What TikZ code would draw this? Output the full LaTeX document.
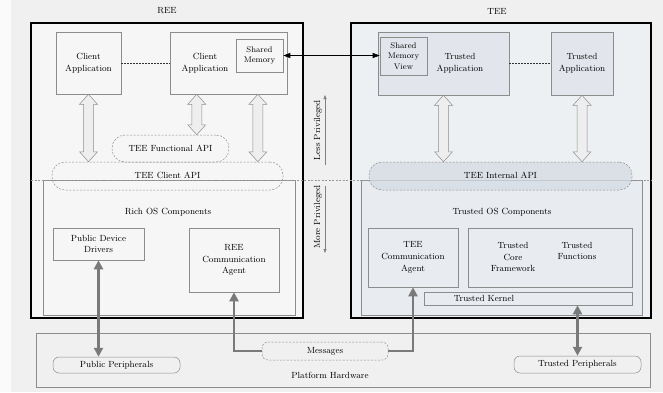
\documentclass[tikz,border=0pt]{standalone}
\usetikzlibrary{arrows.meta,calc}
\definecolor{pagebg}{HTML}{F0F0F0}
\definecolor{reefill}{HTML}{F6F6F6}
\definecolor{teefill}{HTML}{EDF0F3}
\definecolor{tosfill}{HTML}{E8ECF0}
\definecolor{tafill}{HTML}{E2E6EC}
\definecolor{apifill}{HTML}{D5DBE3}
\definecolor{edge}{HTML}{8C8C8C}
\definecolor{hwarrow}{HTML}{7A7A7A}
\definecolor{fatedge}{HTML}{8E8E8E}
\definecolor{fatfill}{HTML}{EEEEEE}
\begin{document}
\begin{tikzpicture}[x=1pt,y=-1pt,font=\fontsize{8.9}{11.8}\selectfont]
\tikzset{
  outer/.style={draw=black,line width=1.4pt,inner sep=0pt},
  layer/.style={draw=edge,line width=0.5pt,inner sep=0pt},
  box/.style={draw=edge,line width=0.55pt,align=center,inner sep=1pt},
  label/.style={align=center,inner sep=1pt},
  api/.style={draw=edge,line width=0.5pt,dash pattern=on 2pt off 1.5pt,rounded corners=13pt,inner sep=0pt},
  periph/.style={draw=edge,line width=0.5pt,rounded corners=6pt,inner sep=0pt},
  fatarrow/.style={draw=fatedge,fill=fatfill,line width=0.5pt},
  fat/.style={to path={let \p1=(\tikztostart), \p2=(\tikztotarget) in
    (\x1-5pt,\y1-10pt) -- (\x1-9pt,\y1-10pt) -- (\x1,\y1) -- (\x1+9pt,\y1-10pt)
    -- (\x1+5pt,\y1-10pt) -- (\x1+5pt,\y2+10pt) -- (\x1+9pt,\y2+10pt) -- (\x1,\y2)
    -- (\x1-9pt,\y2+10pt) -- (\x1-5pt,\y2+10pt) -- cycle}},
  hwlink/.style={draw=hwarrow,line width=2.2pt,{Triangle[length=9pt,width=9pt]}-{Triangle[length=9pt,width=9pt]}},
  hwone/.style={draw=hwarrow,line width=2.2pt,{Triangle[length=9pt,width=9pt]}-},
  shmlink/.style={draw=black,line width=0.6pt,{Triangle[length=7pt,width=5pt]}-{Triangle[length=7pt,width=5pt]}},
  privarrow/.style={draw=gray,line width=0.4pt,-{Triangle[length=4pt,width=3pt]}},
  divider/.style={draw=gray!80,line width=0.5pt,dash pattern=on 2pt off 1.5pt},
  peer/.style={draw=black!80,line width=0.6pt,dash pattern=on 2pt off 1pt}
}
\useasboundingbox (0,0) rectangle (663,392);
\fill[pagebg] (0,0) rectangle (663,392);
\fill[white!70!pagebg] (0,0) rectangle (11,392);

% world headings
\node[label] (reeT) at (167,11) {REE};
\node[label] (teeT) at (497,11) {TEE};

% the two execution environments and their OS layers
\node[outer,fill=reefill,minimum width=272,minimum height=295] (ree) at (167,170.5) {};
\node[outer,fill=teefill,minimum width=300,minimum height=295] (tee) at (501,170.5) {};
\node[layer,fill=reefill,minimum width=252,minimum height=135] (richos) at (169,247.5) {};
\node[layer,fill=tosfill,minimum width=281,minimum height=135] (trustos) at (501.5,247.5) {};

% privilege boundary
\coordinate (divL) at (31,180);
\coordinate (divR) at (651,180);
\draw[divider] (divL) -- (divR);

% platform hardware
\node[layer,minimum width=614,minimum height=54] (hw) at (343,360) {};
\node[label] (hwT) at (330,375) {Platform Hardware};

% API layers
\node[api,minimum width=117,minimum height=27] (fapi) at (170.5,148.5) {};
\node[label] (fapiT) at (170.5,148.5) {TEE Functional API};
\node[api,minimum width=231,minimum height=28] (capi) at (167.5,176) {};
\node[label] (capiT) at (167.5,175) {TEE Client API};
\node[api,fill=apifill,fill opacity=0.75,minimum width=263,minimum height=28] (iapi) at (500.5,176) {};
\node[label] (iapiT) at (500.5,175) {TEE Internal API};

% REE applications
\node[box,fill=reefill,minimum width=65,minimum height=62] (ca1) at (88.5,63) {Client\\Application};
\node[box,fill=reefill,minimum width=117,minimum height=62] (ca2) at (228.5,63) {};
\node[label] (ca2T) at (205,63) {Client\\Application};
\node[box,fill=reefill,minimum width=47,minimum height=33,font=\fontsize{8.2}{10.5}\selectfont] (shm) at (259.5,55.5) {Shared\\Memory};

% TEE applications
\node[box,fill=tafill,minimum width=131,minimum height=63] (ta1) at (443.5,63.5) {};
\node[label] (ta1T) at (460,63) {Trusted\\Application};
\node[box,fill=tafill,minimum width=47,minimum height=38,font=\fontsize{8.2}{10.5}\selectfont] (smv) at (403.5,56) {Shared\\Memory\\View};
\node[box,fill=tafill,minimum width=62,minimum height=63] (ta2) at (582,63.5) {Trusted\\Application};

\draw[peer] (ca1.east) -- (ca1.east -| ca2.west);
\draw[peer] (ta1.east) -- (ta1.east -| ta2.west);
\draw[shmlink] (shm.east) -- (shm.east -| smv.west);

% application to API calls
\coordinate (a2) at ($(ca2.south west)!0.23!(ca2.south east)$);
\coordinate (a3) at ($(ca2.south west)!0.75!(ca2.south east)$);
\path[fatarrow] (ca1.south) to[fat] (ca1.south |- capi.north);
\path[fatarrow] (a2) to[fat] (a2 |- fapi.north);
\path[fatarrow] (a3) to[fat] (a3 |- capi.north);
\path[fatarrow] (ta1.south) to[fat] (ta1.south |- iapi.north);
\path[fatarrow] (ta2.south) to[fat] (ta2.south |- iapi.north);

% privilege indicators
\node[label,rotate=90] (less) at (318,130) {Less Privileged};
\node[label,rotate=90] (more) at (318,217) {More Privileged};
\coordinate (lessA) at (325,165);
\coordinate (lessB) at (325,95);
\coordinate (moreA) at (325,186);
\coordinate (moreB) at (325,253);
\draw[privarrow] (lessA) -- (lessB);
\draw[privarrow] (moreA) -- (moreB);

% OS components
\node[label] (richT) at (168,212) {Rich OS Components};
\node[label] (tosT) at (502,212) {Trusted OS Components};
\node[box,minimum width=91,minimum height=32] (pdd) at (98.5,244) {Public Device\\Drivers};
\node[box,minimum width=90,minimum height=64] (rca) at (234,260) {REE\\Communication\\Agent};
\node[box,minimum width=90,minimum height=59] (tca) at (413,257.5) {TEE\\Communication\\Agent};
\node[box,minimum width=164,minimum height=59] (tcf) at (550,257.5) {};
\node[label] (tcfT) at (513,257) {Trusted\\Core\\Framework};
\node[label] (tfT) at (577,251) {Trusted\\Functions};
\node[box,minimum width=208,minimum height=13] (tk) at (528,298.5) {};
\node[label] (tkT) at (484,298.5) {Trusted Kernel};

% hardware elements
\node[periph,minimum width=127,minimum height=16] (pubp) at (116.5,365) {Public Peripherals};
\node[periph,dash pattern=on 2pt off 1.5pt,minimum width=126,minimum height=18] (msg) at (325,351) {Messages};
\node[periph,minimum width=127,minimum height=17] (trp) at (577.5,364.5) {Trusted Peripherals};

% hardware links
\draw[hwlink] (pdd.south) -- (pdd.south |- pubp.north);
\draw[hwone] (rca.south) |- (msg.west);
\draw[hwone] (tca.south) |- (msg.east);
\draw[hwlink] (trp.north |- tk.south) -- (trp.north);
\end{tikzpicture}
\end{document}
